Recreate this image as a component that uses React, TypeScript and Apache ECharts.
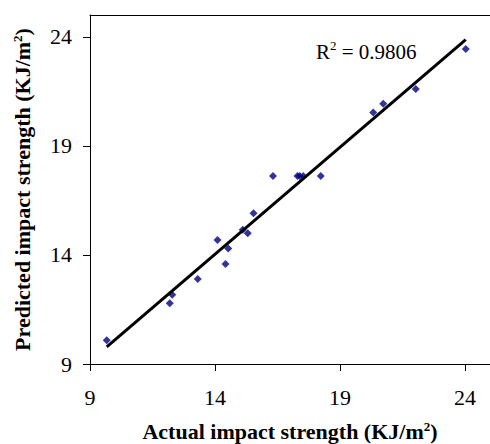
import React, { useEffect, useRef } from "react";
import * as echarts from "echarts";

const actualStrength = [9.67, 12.19, 12.29, 13.31, 14.1, 14.42, 14.53, 15.11, 15.31, 15.54, 16.32, 17.3, 17.39, 17.53, 18.23, 20.33, 20.73, 22.03, 24.03];
const predictedStrength = [10.09, 11.78, 12.18, 12.9, 14.69, 13.59, 14.29, 15.15, 14.99, 15.91, 17.62, 17.62, 17.62, 17.62, 17.62, 20.53, 20.93, 21.61, 23.44];
const tickValues = [9, 14, 19, 24];
const axisMin = 9;
const axisMax = 25;
const r2Text = "0.9806";

const FONT = "'Liberation Serif', 'Times New Roman', serif";

export default function App() {
  const ref = useRef<HTMLDivElement>(null);
  useEffect(() => {
    document.body.style.margin = "0";
    const chart = echarts.init(ref.current!, null, { renderer: "svg" });
    const n = actualStrength.length;
    const mx = actualStrength.reduce((a, b) => a + b, 0) / n;
    const my = predictedStrength.reduce((a, b) => a + b, 0) / n;
    let sxy = 0;
    let sxx = 0;
    for (let i = 0; i < n; i++) {
      sxy += (actualStrength[i] - mx) * (predictedStrength[i] - my);
      sxx += (actualStrength[i] - mx) * (actualStrength[i] - mx);
    }
    const slope = sxy / sxx;
    const intercept = my - slope * mx;
    const xLo = Math.min(...actualStrength);
    const xHi = Math.max(...actualStrength);
    const trend = [
      [xLo, intercept + slope * xLo],
      [xHi, intercept + slope * xHi],
    ];

    const nameRich = {
      t: { fontFamily: FONT, fontSize: 22, fontWeight: "bold", color: "#000", lineHeight: 22 },
      s: { fontFamily: FONT, fontSize: 13, fontWeight: "bold", color: "#000", lineHeight: 16, verticalAlign: "top" },
    };

    const axisCommon: any = {
      type: "value",
      min: axisMin,
      max: axisMax,
      nameLocation: "middle",
      axisLine: { show: true, lineStyle: { color: "#000", width: 1 } },
      axisTick: { show: true, customValues: tickValues, length: 7, lineStyle: { color: "#000", width: 1 } },
      axisLabel: { customValues: tickValues, fontFamily: FONT, fontSize: 22, color: "#000" },
      splitLine: { show: false },
      nameTextStyle: { fontFamily: FONT, fontSize: 22, fontWeight: "bold", color: "#000", rich: nameRich },
    };

    chart.setOption({
      animation: false,
      backgroundColor: "#fff",
      grid: {
        left: 90,
        top: 15,
        right: 0,
        bottom: 80,
        show: false,
        outerBoundsMode: "none",
        containLabel: false,
      },
      xAxis: [
        {
          ...axisCommon,
          name: "{t|Actual impact strength (KJ/m}{s|2}{t|)}",
          nameGap: 56,
          axisLabel: { ...axisCommon.axisLabel, margin: 22 },
        },
        {
          type: "value",
          min: axisMin,
          max: axisMax,
          position: "top",
          axisLine: { show: true, onZero: false, lineStyle: { color: "#000", width: 1 } },
          axisTick: { show: false },
          axisLabel: { show: false },
          splitLine: { show: false },
        },
      ],
      yAxis: {
        ...axisCommon,
        name: "{t|Predicted impact strength (KJ/m}{s|2}{t|)}",
        nameGap: 57,
        nameRotate: 90,
        axisLabel: { ...axisCommon.axisLabel, margin: 18 },
      },
      graphic: [
        {
          type: "text",
          left: 316,
          top: 39,
          z: 10,
          style: {
            text: "{a|R}{s|2}{a| = " + r2Text + "}",
            rich: {
              a: { fontFamily: FONT, fontSize: 21, color: "#000", lineHeight: 26 },
              s: { fontFamily: FONT, fontSize: 13, color: "#000", lineHeight: 16, verticalAlign: "top" },
            },
          },
        },
      ],
      series: [
        {
          type: "scatter",
          data: actualStrength.map((x, i) => [x, predictedStrength[i]]),
          symbol: "diamond",
          symbolSize: 8,
          itemStyle: { color: "#000080" },
          z: 2,
        },
        {
          type: "line",
          data: trend,
          symbol: "none",
          lineStyle: { color: "#000", width: 3 },
          z: 3,
        },
      ],
    });
    return () => chart.dispose();
  }, []);
  return <div ref={ref} style={{ width: 490, height: 444 }} />;
}
